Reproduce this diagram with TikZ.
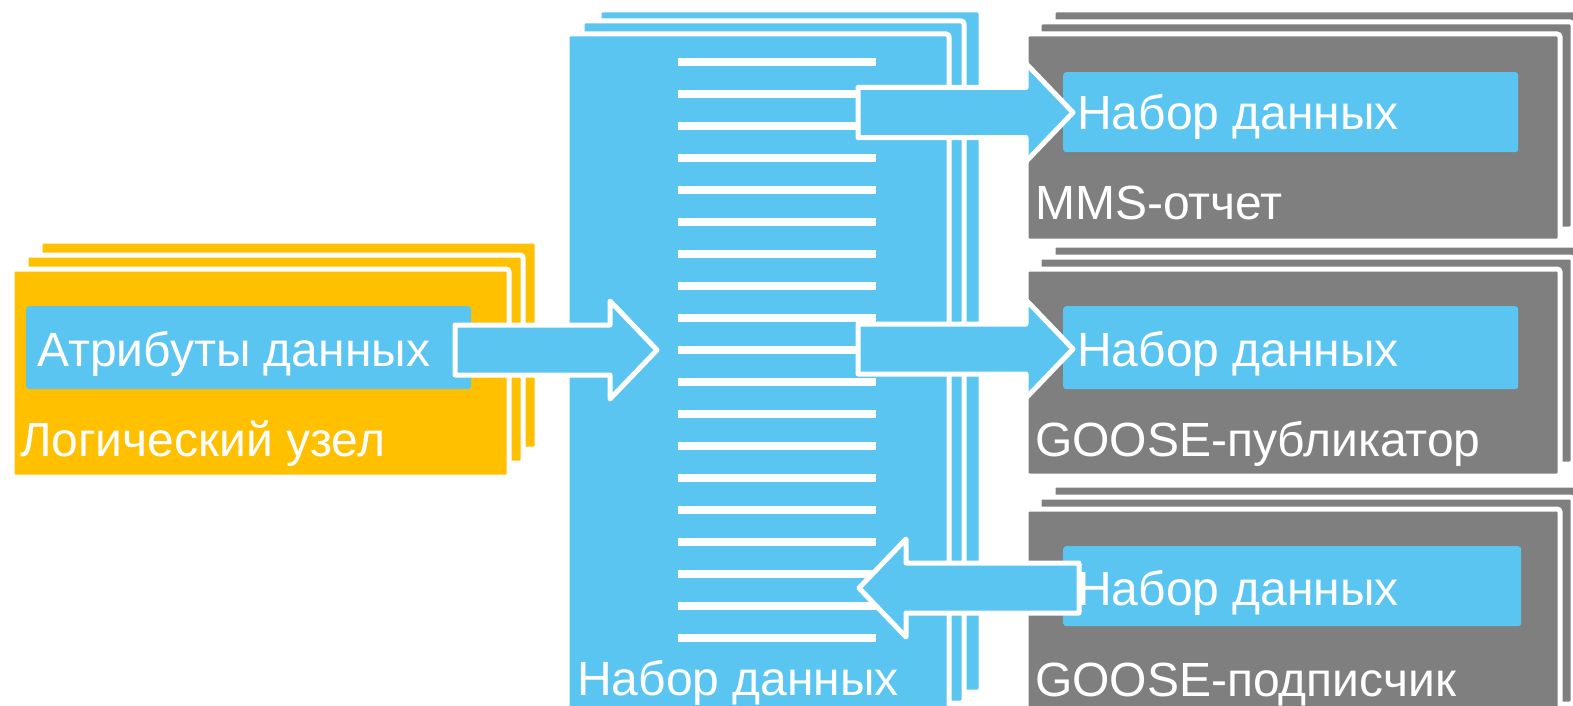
\documentclass[tikz,border=0pt]{standalone}
\usepackage{fontspec}
\setmainfont{Liberation Sans}
\usetikzlibrary{calc}
\definecolor{nodeyellow}{HTML}{FFC000}
\definecolor{setblue}{HTML}{5BC5F2}
\definecolor{cbgray}{HTML}{7F7F7F}
\tikzset{
  figfont/.style={font=\fontsize{48}{56}\selectfont},
  card/.style={draw=white, line width=5pt, rounded corners=3pt, inner sep=0pt, anchor=north west},
  ylwcard/.style={card, fill=nodeyellow, minimum width=497pt, minimum height=208pt},
  bluecard/.style={card, fill=setblue, minimum width=382pt, minimum height=682pt},
  graycard/.style={card, fill=cbgray, minimum width=534pt, minimum height=207pt},
  innerbox/.style={fill=setblue, rounded corners=3pt, inner sep=0pt, anchor=north west},
  figlabel/.style={text=white, inner sep=0pt, anchor=base west},
  figblock/.style={fill=setblue, draw=white, line width=5pt, line join=round},
  figrule/.style={draw=white, line width=7.5pt},
}
% block arrow from #1 to the tip #2
\newcommand{\blockarrow}[2]{%
  \coordinate (#1-h) at ($(#2)!47pt!(#1)$);
  \draw[figblock] ($(#1)!25pt!90:(#2)$) -- ($(#1-h)!25pt!-90:(#1)$)
    -- ($(#1-h)!49pt!-90:(#1)$) -- (#2)
    -- ($(#1-h)!49pt!90:(#1)$) -- ($(#1-h)!25pt!90:(#1)$)
    -- ($(#1)!25pt!-90:(#2)$) -- cycle;}

\begin{document}
\begin{tikzpicture}[x=1pt,y=-1pt,figfont]
  \useasboundingbox (0,0) rectangle (1573,706);

  % Logical node (stacked cards)
  \foreach \dx/\dy in {28/28,14/14}
    \node[ylwcard] at (9.5+\dx,266.5-\dy) {};
  \node[ylwcard] (ln) at (9.5,266.5) {};
  \node[innerbox, minimum width=445pt, minimum height=83pt] (attr) at (26,306) {};

  % Data set (stacked cards with entries)
  \foreach \dx/\dy in {32/24,15/13}
    \node[bluecard] at (564.5+\dx,31.5-\dy) {};
  \node[bluecard, minimum height=690pt] (ds) at (564.5,31.5) {};
  \foreach \k in {0,...,18}
    \draw[figrule] (678,62+32*\k) -- (876,62+32*\k);

  % Control blocks
  \foreach \y/\name in {31.5/mms,266.5/gpub,506.5/gsub} {
    \foreach \dx/\dy in {27/24,13/12}
      \node[graycard] at (1023.5+\dx,\y-\dy) {};
    \node[graycard] (\name) at (1023.5,\y) {};
  }
  \node[innerbox, minimum width=455pt, minimum height=80pt] (mmsds) at (1063,72) {};
  \node[innerbox, minimum width=455pt, minimum height=83pt] (gpubds) at (1063,306) {};
  \node[innerbox, minimum width=458pt, minimum height=80pt] (gsubds) at (1063,546) {};

  % Arrows
  \coordinate (attr-out) at (455,350);
  \coordinate (ds-in) at (657,350);
  \coordinate (ds-out1) at (858,112.5);
  \coordinate (mms-in) at (1073,112.5);
  \coordinate (ds-out2) at (858,349);
  \coordinate (gpub-in) at (1073,349);
  \coordinate (gsub-out) at (1079,588);
  \coordinate (ds-in2) at (859,588);
  \blockarrow{attr-out}{ds-in}
  \blockarrow{ds-out1}{mms-in}
  \blockarrow{ds-out2}{gpub-in}
  \blockarrow{gsub-out}{ds-in2}

  % Labels
  \node[figlabel] (attrlbl) at (37,366) {Атрибуты данных};
  \node[figlabel] (lnlbl) at (20,456) {Логический узел};
  \node[figlabel] (dslbl) at (577,695) {Набор данных};
  \node[figlabel] (mmsdslbl) at (1077,130) {Набор данных};
  \node[figlabel] (gpubdslbl) at (1077,366) {Набор данных};
  \node[figlabel] (gsubdslbl) at (1077,605) {Набор данных};
  \node[figlabel] (mmslbl) at (1035,219) {MMS-отчет};
  \node[figlabel] (gpublbl) at (1035,456) {GOOSE-публикатор};
  \node[figlabel] (gsublbl) at (1035,696) {GOOSE-подписчик};
\end{tikzpicture}
\end{document}
